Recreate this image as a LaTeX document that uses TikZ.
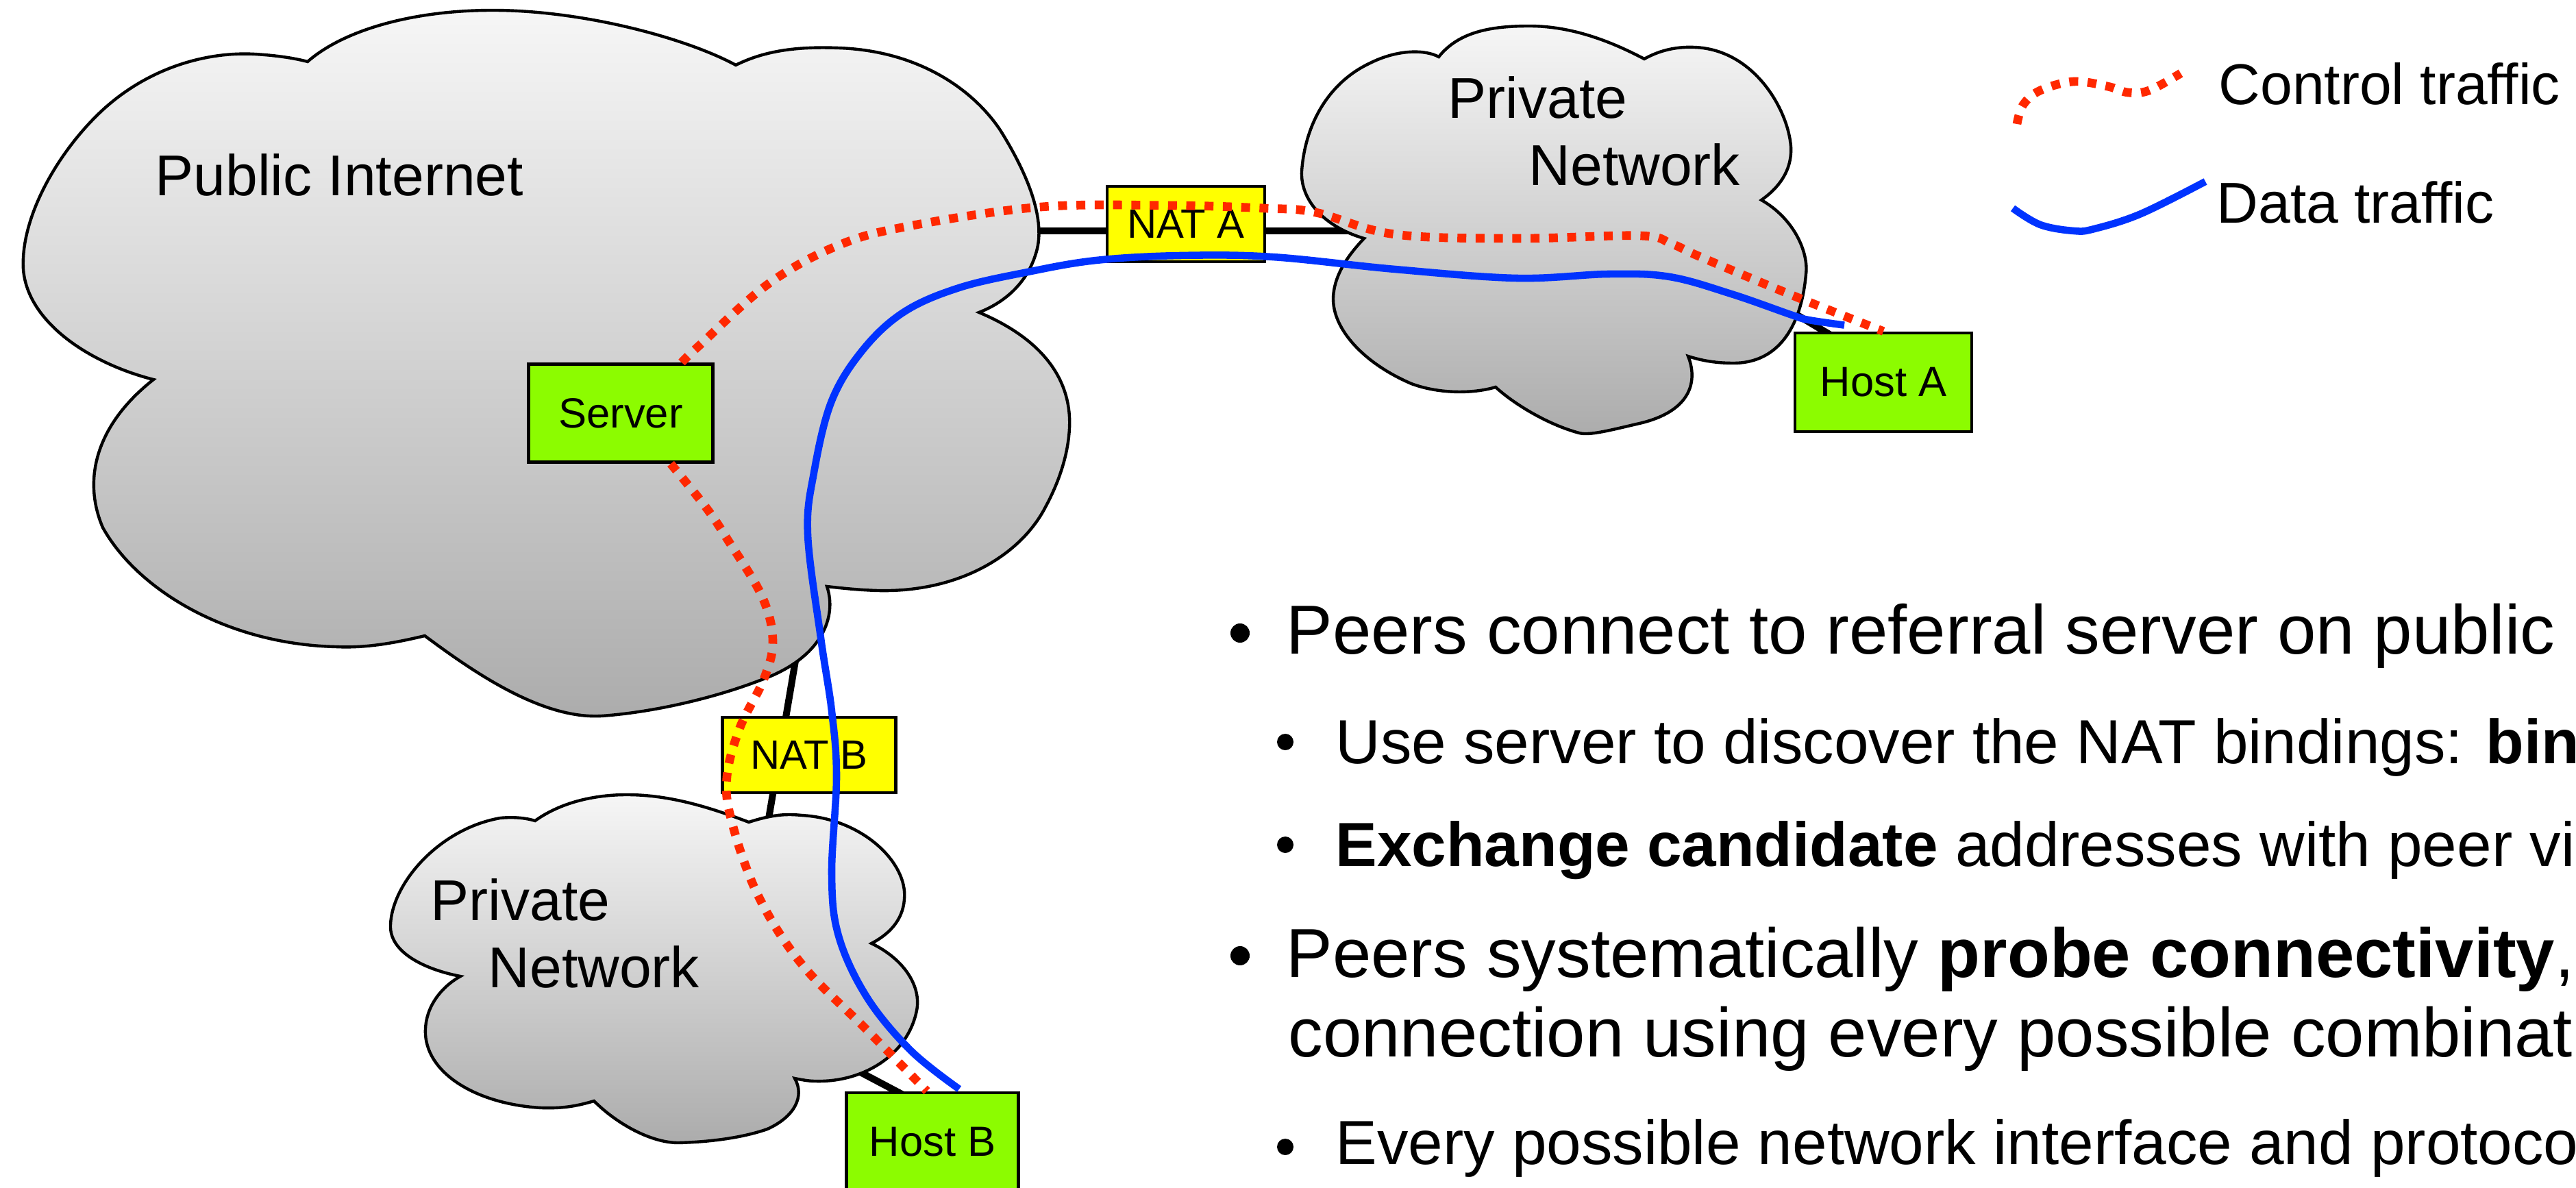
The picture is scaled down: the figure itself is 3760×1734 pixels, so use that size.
\documentclass[tikz,border=0pt]{standalone}
\usepackage{fontspec}
\setmainfont{Liberation Sans}
\usetikzlibrary{calc}

\definecolor{ctrlred}{RGB}{255,40,0}
\definecolor{datablue}{RGB}{0,51,255}
\definecolor{boxgreen}{RGB}{140,252,0}
\definecolor{natyellow}{RGB}{255,255,0}
\definecolor{cloudtop}{RGB}{246,246,246}
\definecolor{cloudbot}{RGB}{172,172,172}

\begin{document}
\begin{tikzpicture}[x=0.01cm,y=-0.01cm,
  cloud/.style={draw=black,line width=1.25pt,top color=cloudtop,bottom color=cloudbot},
  link/.style={draw=black,line width=2.85pt},
  device/.style={draw=black,line width=1.35pt,fill=boxgreen,inner sep=0pt,font=\fontsize{17.5}{20}\selectfont},
  natbox/.style={draw=black,line width=1.35pt,fill=natyellow,inner sep=0pt,font=\fontsize{17}{20}\selectfont},
  netlabel/.style={anchor=base west,inner sep=0pt,font=\fontsize{23.9}{28}\selectfont},
  ctrl/.style={draw=ctrlred,line width=3.6pt,dash pattern=on 3.7pt off 3.9pt},
  data/.style={draw=datablue,line width=3pt},
  bigtext/.style={anchor=base west,inner sep=0pt,font=\fontsize{28.8}{33}\selectfont},
  smalltext/.style={anchor=base west,inner sep=0pt,font=\fontsize{25.85}{30}\selectfont},
]
\useasboundingbox (0,0) rectangle (3760,1734);
\clip (0,0) rectangle (3760,1734);

% ---- links between networks and devices (behind the clouds) ----
\coordinate (natAl) at (1480,337);
\coordinate (natAr) at (1990,337);
\coordinate (natBt) at (1166,935);
\coordinate (natBb) at (1116,1230);
\coordinate (hostAl) at (2580,434);
\coordinate (hostAr) at (2672,489);
\coordinate (hostBl) at (1220,1546);
\coordinate (hostBr) at (1322,1600);
\draw[link] (natAl) -- (natAr);
\draw[link] (natBt) -- (natBb);
\draw[link] (hostAl) -- (hostAr);
\draw[link] (hostBl) -- (hostBr);

% ---- public internet cloud ----
\path[cloud] (449,90)
  .. controls (500,45) and (600,15) .. (719,15)
  .. controls (850,15) and (1000,55) .. (1074,95)
  .. controls (1120,72) and (1170,68) .. (1224,70)
  .. controls (1340,74) and (1420,130) .. (1460,190)
  .. controls (1510,270) and (1525,330) .. (1512,370)
  .. controls (1500,410) and (1470,440) .. (1429,456)
  .. controls (1510,490) and (1565,545) .. (1561,625)
  .. controls (1559,665) and (1545,705) .. (1526,740)
  .. controls (1490,810) and (1400,865) .. (1281,862)
  .. controls (1250,861) and (1225,858) .. (1207,856)
  .. controls (1222,900) and (1200,960) .. (1112,992)
  .. controls (1040,1020) and (950,1040) .. (878,1045)
  .. controls (790,1050) and (690,980) .. (620,928)
  .. controls (570,940) and (530,946) .. (490,944)
  .. controls (330,940) and (200,860) .. (150,770)
  .. controls (120,700) and (140,620) .. (224,554)
  .. controls (130,530) and (40,470) .. (34,393)
  .. controls (30,320) and (80,230) .. (140,170)
  .. controls (210,100) and (300,75) .. (372,79)
  .. controls (405,81) and (430,85) .. (449,90) -- cycle;

% ---- private network A ----
\path[cloud] (2100,83)
  .. controls (2130,45) and (2180,38) .. (2232,38)
  .. controls (2300,38) and (2360,65) .. (2400,86)
  .. controls (2425,72) and (2450,68) .. (2473,69)
  .. controls (2560,72) and (2610,160) .. (2614,214)
  .. controls (2616,250) and (2595,275) .. (2571,292)
  .. controls (2620,320) and (2640,370) .. (2636,400)
  .. controls (2630,470) and (2600,530) .. (2530,530)
  .. controls (2500,530) and (2480,525) .. (2464,520)
  .. controls (2478,555) and (2470,600) .. (2393,618)
  .. controls (2350,628) and (2320,636) .. (2305,632)
  .. controls (2260,620) and (2210,590) .. (2183,565)
  .. controls (2150,575) and (2100,575) .. (2060,560)
  .. controls (1990,530) and (1945,480) .. (1946,435)
  .. controls (1947,400) and (1970,370) .. (1991,348)
  .. controls (1930,330) and (1898,290) .. (1900,250)
  .. controls (1905,180) and (1940,120) .. (2000,92)
  .. controls (2040,72) and (2080,72) .. (2100,83) -- cycle;

% ---- private network B ----
\path[cloud] (781,1198)
  .. controls (820,1170) and (870,1160) .. (915,1160)
  .. controls (980,1160) and (1040,1180) .. (1093,1200)
  .. controls (1130,1188) and (1150,1188) .. (1170,1190)
  .. controls (1260,1195) and (1325,1260) .. (1320,1312)
  .. controls (1318,1345) and (1295,1365) .. (1272,1377)
  .. controls (1320,1400) and (1345,1440) .. (1338,1475)
  .. controls (1325,1540) and (1260,1580) .. (1190,1578)
  .. controls (1180,1578) and (1170,1576) .. (1160,1574)
  .. controls (1175,1600) and (1160,1630) .. (1120,1648)
  .. controls (1080,1662) and (1030,1667) .. (990,1668)
  .. controls (950,1668) and (900,1640) .. (867,1607)
  .. controls (840,1615) and (820,1618) .. (790,1617)
  .. controls (700,1612) and (625,1570) .. (621,1510)
  .. controls (619,1470) and (645,1440) .. (672,1425)
  .. controls (620,1415) and (568,1390) .. (570,1350)
  .. controls (572,1290) and (640,1210) .. (730,1194)
  .. controls (750,1192) and (768,1194) .. (781,1198) -- cycle;

% ---- network labels ----
\node[netlabel] (pubname) at (226,286) {Public Internet};
\node[netlabel] (privAone) at (2113,173) {Private};
\node[netlabel] (privAtwo) at (2231,271) {Network};
\node[netlabel] (privBone) at (628,1343) {Private};
\node[netlabel] (privBtwo) at (712,1441) {Network};

% ---- devices ----
\node[device,minimum width=2.69cm,minimum height=1.43cm] (server) at (906,603) {Server};
\node[natbox,minimum width=2.30cm,minimum height=1.10cm] (natA) at (1731,327) {NAT A};
\node[natbox,minimum width=2.53cm,minimum height=1.10cm] (natB) at (1181,1102) {NAT B};
\node[device,minimum width=2.58cm,minimum height=1.44cm] (hostA) at (2749,558) {Host A};
\node[device,minimum width=2.51cm,minimum height=1.44cm] (hostB) at (1361,1667) {Host B};

% ---- traffic paths ----
\coordinate (ctrlAstart) at ($(server.north)+(89,0)$);
\coordinate (ctrlBstart) at ($(server.south)+(73,0)$);
\coordinate (ctrlBend) at ($(hostB.north)+(-8,0)$);
\coordinate (dataAstart) at ($(hostA.north)+(-57,-9)$);
\coordinate (dataBend) at ($(hostB.north)+(39,-3)$);

\draw[ctrl] plot[smooth,tension=0.6] coordinates {(ctrlAstart) (1020,505) (1122,414) (1224,358) (1327,330) (1520,302) (1712,300) (1846,304) (1920,310) (2036,342) (2214,348) (2393,344) (2440,356) (2482,375) (2616,431) (hostA.north)};
\draw[ctrl] plot[smooth,tension=0.6] coordinates {(ctrlBstart) (1030,740) (1061,786) (1112,870) (1128,935) (1115,991) (1080,1062) (1061,1134) (1068,1199) (1106,1306) (1170,1407) (1265,1503) (ctrlBend)};
\draw[data] plot[smooth,tension=0.6] coordinates {(dataAstart) (2640,467) (2616,460) (2527,429) (2437,404) (2348,400) (2214,406) (2036,393) (1857,375) (1723,373) (1600,380) (1500,397) (1400,420) (1320,455) (1260,510) (1214,585) (1188,690) (1179,780) (1198,931) (1214,1038) (1221,1134) (1214,1276) (1224,1366) (1265,1455) (1329,1533) (dataBend)};

% ---- legend ----
\draw[ctrl] plot[smooth,tension=0.6] coordinates {(2944,181) (2953,153) (2978,132) (3027,119) (3076,126) (3106,135) (3137,132) (3183,107)};
\draw[data] plot[smooth,tension=0.6] coordinates {(2938,304) (2978,328) (3027,337) (3057,334) (3125,312) (3219,265)};
\node[netlabel] (ctrlname) at (3238,153) {Control traffic};
\node[netlabel] (dataname) at (3235,326) {Data traffic};

% ---- bullet list ----
\fill (1810,924) circle[radius=0.14cm];
\fill (1876,1083) circle[radius=0.12cm];
\fill (1876,1233) circle[radius=0.12cm];
\fill (1810,1395) circle[radius=0.14cm];
\fill (1876,1674) circle[radius=0.12cm];
\node[bigtext] (pointone) at (1877,955) {Peers connect to referral server on public};
\node[smalltext] (pointonea) at (1949,1114) {Use server to discover the NAT bindings: \textbf{bind}};
\node[smalltext] (pointoneb) at (1949,1264) {\textbf{Exchange candidate} addresses with peer via};
\node[bigtext] (pointtwo) at (1877,1426) {Peers systematically \textbf{probe connectivity},};
\node[bigtext] (pointtwob) at (1880,1542) {connection using every possible combination};
\node[smalltext] (pointtwoa) at (1949,1699) {Every possible network interface and protocol};
\end{tikzpicture}
\end{document}
